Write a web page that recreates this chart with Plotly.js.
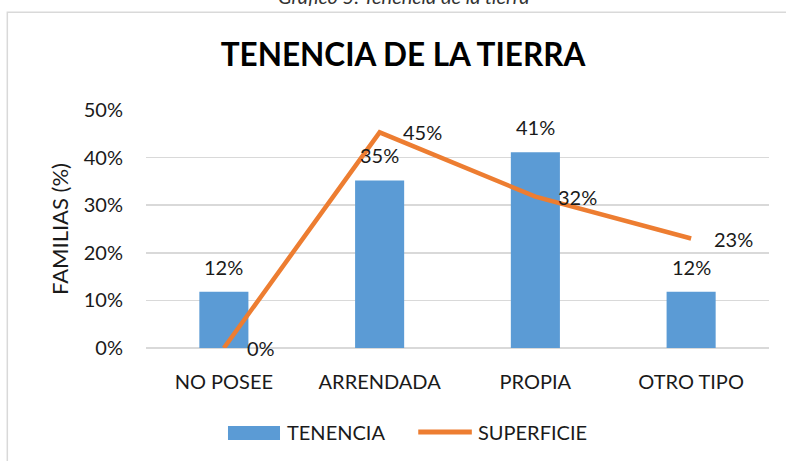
<!DOCTYPE html>
<html>
<head>
<meta charset="utf-8">
<script src="https://cdn.plot.ly/plotly-3.0.1.min.js"></script>
<style>
html,body{margin:0;padding:0;background:#fff;overflow:hidden;}
#chart{width:786px;height:461px;}
</style>
</head>
<body>
<div id="chart"></div>
<script>
var categories = ["NO POSEE", "ARRENDADA", "PROPIA", "OTRO TIPO"];
var tenencia = [0.118, 0.352, 0.411, 0.118];
var superficie = [0.0, 0.453, 0.318, 0.230];
var tenenciaLabels = ["12%", "35%", "41%", "12%"];
var superficieLabels = ["0%", "45%", "32%", "23%"];
var seriesNames = ["TENENCIA", "SUPERFICIE"];
var yTickVals = [0, 0.1, 0.2, 0.3, 0.4, 0.5];
var yTickText = ["0%", "10%", "20%", "30%", "40%", "50%"];
var chartTitle = "TENENCIA DE LA TIERRA";
var captionText = "Gráfico 5: Tenencia de la tierra";
var yTitle = "FAMILIAS (%)";

var FONT = "Lato, 'Open Sans', sans-serif";
var TXT = "#1a1a1a";
var BLUE = "#5b9bd5";
var ORANGE = "#ed7d31";

var traces = [
  {
    type: "bar",
    name: seriesNames[0],
    x: categories,
    y: tenencia,
    marker: {color: BLUE},
    hoverinfo: "skip",
    showlegend: false
  },
  {
    type: "scatter",
    mode: "lines",
    name: seriesNames[1],
    x: categories,
    y: superficie,
    line: {color: ORANGE, width: 4.5},
    hoverinfo: "skip",
    showlegend: false,
    cliponaxis: false
  }
];

var annotations = [];
for (var i = 0; i < categories.length; i++) {
  annotations.push({
    x: categories[i], y: tenencia[i], xref: "x", yref: "y",
    text: tenenciaLabels[i], showarrow: false,
    xanchor: "center", yanchor: "middle", yshift: 25,
    font: {family: FONT, size: 20, color: TXT}
  });
  annotations.push({
    x: categories[i], y: superficie[i], xref: "x", yref: "y",
    text: superficieLabels[i], showarrow: false,
    xanchor: "left", yanchor: "middle", xshift: 21,
    font: {family: FONT, size: 20, color: TXT}
  });
}
// caption above chart (partly cut off)
annotations.push({
  x: 0.413, y: 1.42, xref: "paper", yref: "paper",
  text: "<i>" + captionText + "</i>", showarrow: false,
  xanchor: "center", yanchor: "bottom",
  font: {family: FONT, size: 20, color: "#333"}
});
// legend labels
annotations.push({
  x: 0.2231, y: -0.353, xref: "paper", yref: "paper",
  text: seriesNames[0], showarrow: false, xanchor: "left", yanchor: "middle",
  font: {family: FONT, size: 20, color: TXT}
});
annotations.push({
  x: 0.5297, y: -0.353, xref: "paper", yref: "paper",
  text: seriesNames[1], showarrow: false, xanchor: "left", yanchor: "middle",
  font: {family: FONT, size: 20, color: TXT}
});

var shapes = [
  // chart border
  {type: "rect", xref: "paper", yref: "paper", x0: -0.2226, x1: 2, y0: -2, y1: 1.4105,
   line: {color: "#d9d9d9", width: 1.5}, fillcolor: "rgba(0,0,0,0)", layer: "below"},
  // legend swatches
  {type: "rect", xref: "paper", yref: "paper", x0: 0.1316, x1: 0.2151, y0: -0.3866, y1: -0.3277,
   line: {width: 0}, fillcolor: BLUE},
  {type: "line", xref: "paper", yref: "paper", x0: 0.437, x1: 0.523, y0: -0.353, y1: -0.353,
   line: {color: ORANGE, width: 5}}
];

var layout = {
  width: 786, height: 461,
  margin: {l: 146, r: 17, t: 110, b: 113, pad: 0},
  paper_bgcolor: "#fff", plot_bgcolor: "#fff",
  font: {family: FONT, size: 20, color: TXT},
  title: {
    text: "<b>" + chartTitle + "</b>",
    x: 403 / 786, xref: "container", xanchor: "center",
    y: 1 - 55 / 461, yref: "container", yanchor: "middle",
    font: {family: FONT, size: 31.5, color: "#000"}
  },
  bargap: 0.685,
  showlegend: false,
  xaxis: {
    type: "category",
    showgrid: false, zeroline: false, showline: false,
    ticks: "", ticklabelstandoff: 20,
    tickfont: {family: FONT, size: 20, color: TXT},
    fixedrange: true
  },
  yaxis: {
    range: [0, 0.5],
    tickvals: yTickVals, ticktext: yTickText,
    showgrid: true, gridcolor: "#d9d9d9", gridwidth: 1.5,
    zeroline: true, zerolinecolor: "#d9d9d9", zerolinewidth: 1.5,
    showline: false, ticks: "", ticklabelstandoff: 22,
    tickfont: {family: FONT, size: 20, color: TXT},
    title: {text: yTitle, standoff: 9, font: {family: FONT, size: 22, color: TXT}},
    fixedrange: true
  },
  annotations: annotations,
  shapes: shapes
};

Plotly.newPlot("chart", traces, layout, {displayModeBar: false, staticPlot: true});
</script>
</body>
</html>
